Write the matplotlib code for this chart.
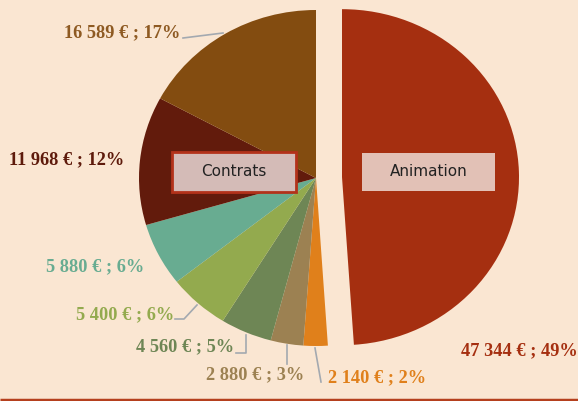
import matplotlib.pyplot as plt
from matplotlib.patches import Rectangle

# budget split, clockwise from the top
values = [47344, 2140, 2880, 4560, 5400, 5880, 11968, 16589]
labels = ["47 344 € ; 49%", "2 140 € ; 2%", "2 880 € ; 3%", "4 560 € ; 5%",
          "5 400 € ; 6%", "5 880 € ; 6%", "11 968 € ; 12%", "16 589 € ; 17%"]
colors = ["#A52F10", "#E0801B", "#9C8152", "#6E8655",
          "#93AA4E", "#68AC91", "#621B0C", "#834C10"]
text_colors = ["#A52F10", "#E0801B", "#9C8152", "#6E8655",
               "#93AA4E", "#68AC91", "#5E1A0B", "#8E5A22"]
explode = [0.147, 0, 0, 0, 0, 0, 0, 0]
box_names = ["Contrats", "Animation"]

W, H = 578, 401
CX, CY, RX, RY = 316, 178, 177, 168
BG = "#FAE6D2"


def px(x, y):
    # image pixel -> data units (pie has radius 1)
    return (x - CX) / RX, (CY - y) / RY


fig = plt.figure(figsize=(W / 100, H / 100), dpi=100)
fig.patch.set_facecolor(BG)
ax = fig.add_axes([0, 0, 1, 1])
ax.set_facecolor(BG)

ax.pie(values, colors=colors, explode=explode, startangle=90,
       counterclock=False, radius=1, center=(0, 0),
       wedgeprops=dict(linewidth=0))
ax.set_aspect("auto")
x0, _ = px(0, 0)
x1, _ = px(W, 0)
_, y0 = px(0, H)
_, y1 = px(0, 0)
ax.set_xlim(x0, x1)
ax.set_ylim(y0, y1)
ax.axis("off")

# leader lines
leaders = [
    [(183, 38), (223, 33)],
    [(175, 319), (184, 319), (197, 305)],
    [(236, 353), (246, 353), (246, 335)],
    [(287, 345), (287, 364)],
    [(315, 348), (321, 382)],
]
for pts in leaders:
    xs, ys = zip(*[px(*p) for p in pts])
    ax.plot(xs, ys, color="#A3A9B0", lw=1.2)

# data labels
label_pos = [(461, 351), (328, 378), (206, 375), (136, 347),
             (76, 315), (46, 267), (9, 160), (64, 33)]
for lab, pos, c in zip(labels, label_pos, text_colors):
    ax.text(*px(*pos), lab, ha="left", va="center", color=c,
            fontsize=13.2, fontweight="bold", family="Liberation Serif")

# category boxes
boxes = [((172, 152, 296, 192), "#D4BBB7", "#B3321A", 2.0),
         ((362, 153, 495, 191), "#E2C1B6", "none", 0)]
for name, (b, fc, ec, lw) in zip(box_names, boxes):
    xa, ya = px(b[0], b[3])
    xb, yb = px(b[2], b[1])
    ax.add_patch(Rectangle((xa, ya), xb - xa, yb - ya, facecolor=fc,
                           edgecolor=ec, linewidth=lw, zorder=5))
    ax.text((xa + xb) / 2, (ya + yb) / 2, name, ha="center", va="center",
            fontsize=11, color="#222222", family="DejaVu Sans", zorder=6)

# bottom rule
ax.plot(*zip(px(0, 399.5), px(W, 399.5)), color="#B5401E", lw=2.5,
        solid_capstyle="butt")

fig.savefig("out.png", dpi=100, facecolor=BG)
